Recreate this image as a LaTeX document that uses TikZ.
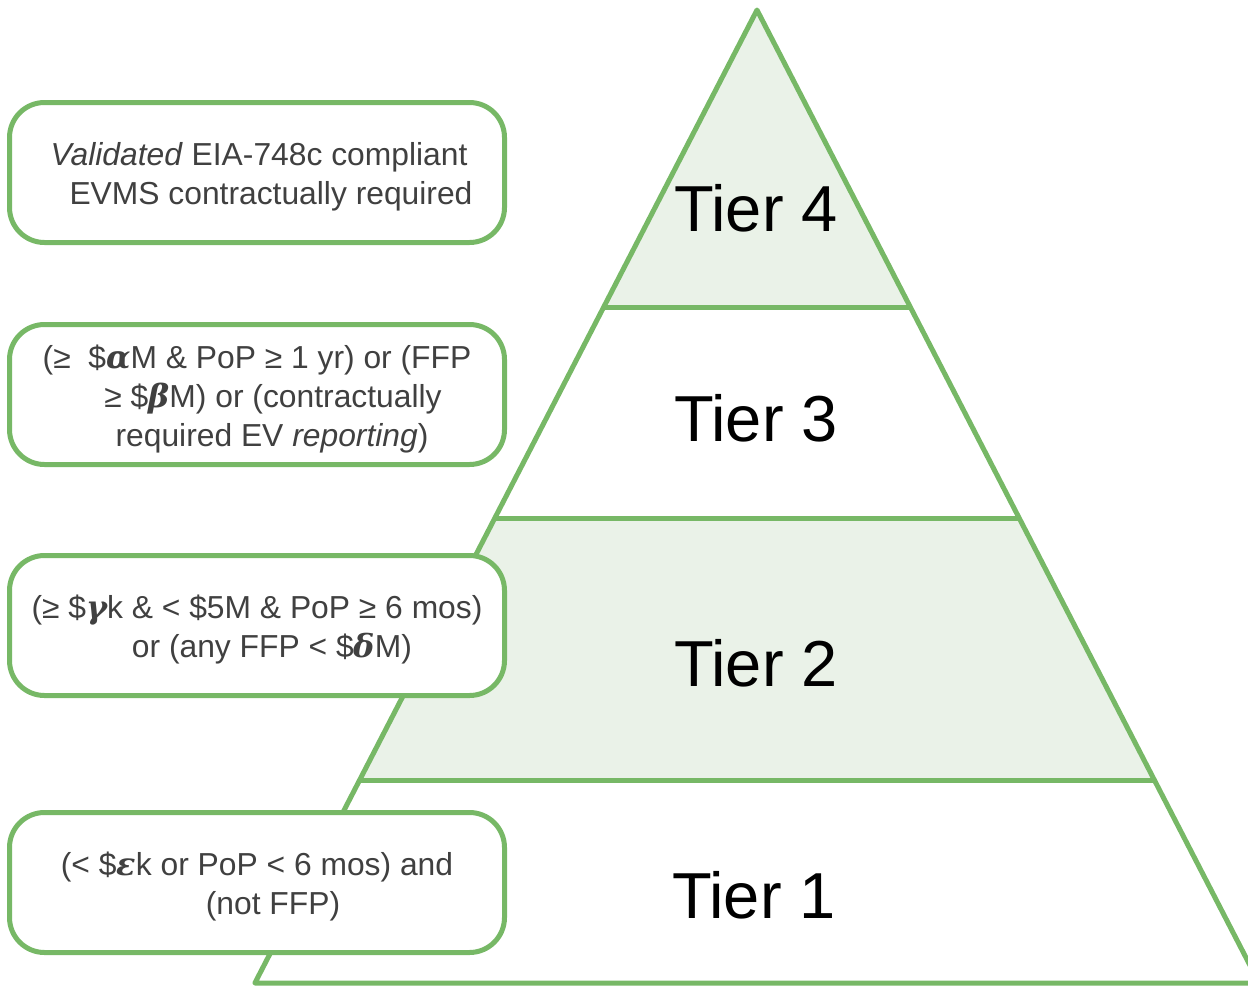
\documentclass[tikz,border=0pt]{standalone}
\usepackage{fontspec}
\setmainfont{Liberation Sans}
\newfontfamily\grkfont{DejaVu Serif}
\definecolor{tiergreen}{RGB}{119,184,102}
\definecolor{tierfill}{RGB}{234,242,232}
\definecolor{txtgray}{RGB}{64,64,64}
\newcommand{\gk}[1]{{\grkfont\bfseries\itshape #1}}
\newcommand{\boxtext}[1]{\raisebox{-5pt}[\height][\depth]{\begin{tabular}{@{}c@{}}#1\end{tabular}}}
\begin{document}
\begin{tikzpicture}[x=1pt,y=-1pt,line width=5pt,
  condbox/.style={draw=tiergreen,fill=white,rounded corners=35pt,minimum width=495pt,minimum height=140pt,text=txtgray,font=\fontsize{31.8}{39}\selectfont,inner sep=0pt},
  tierlabel/.style={font=\fontsize{65}{72}\selectfont,text=black,anchor=base},
  tierline/.style={draw=tiergreen,line join=round}]
\useasboundingbox (0,0) rectangle (1248,986);
\coordinate (apex) at (757,10);
\coordinate (l4) at (603.7,307);  \coordinate (r4) at (910.3,307);
\coordinate (l3) at (494.9,518);  \coordinate (r3) at (1019.1,518);
\coordinate (l2) at (359.7,780);  \coordinate (r2) at (1154.3,780);
\coordinate (l1) at (254.9,983);  \coordinate (r1) at (1259.1,983);
\begin{scope}
\clip (0,0) rectangle (1248,986);
\fill[tierfill] (apex) -- (l4) -- (r4) -- cycle;
\fill[tierfill] (l3) -- (r3) -- (r2) -- (l2) -- cycle;
\draw[tierline] (l1) -- (apex) -- (r1) -- cycle;
\draw[tierline] (l4) -- (r4);
\draw[tierline] (l3) -- (r3);
\draw[tierline] (l2) -- (r2);
\end{scope}
\node[tierlabel] (t4) at (756,231) {Tier 4};
\node[tierlabel] (t3) at (756,441) {Tier 3};
\node[tierlabel] (t2) at (756,686) {Tier 2};
\node[tierlabel] (t1) at (754,918) {Tier 1};
\node[condbox] (c4) at (257,172.5) {\boxtext{\hspace*{4pt}\textit{Validated} EIA-748c compliant\\\hspace*{28pt}EVMS contractually required}};
\node[condbox] (c3) at (257,394.5) {\boxtext{(≥\ \ \$\gk{α}M \& PoP ≥ 1 yr) or (FFP\\\hspace*{32pt}≥ \$\gk{β}M) or (contractually\\\hspace*{30pt}required EV \textit{reporting})}};
\node[condbox] (c2) at (257,625.5) {\boxtext{(≥ \$\gk{γ}k \& < \$5M \& PoP ≥ 6 mos)\\\hspace*{30pt}or (any FFP < \$\gk{δ}M)}};
\node[condbox] (c1) at (257,882.5) {\boxtext{(< \$\gk{ε}k or PoP < 6 mos) and\\\hspace*{32pt}(not FFP)}};
\end{tikzpicture}
\end{document}
